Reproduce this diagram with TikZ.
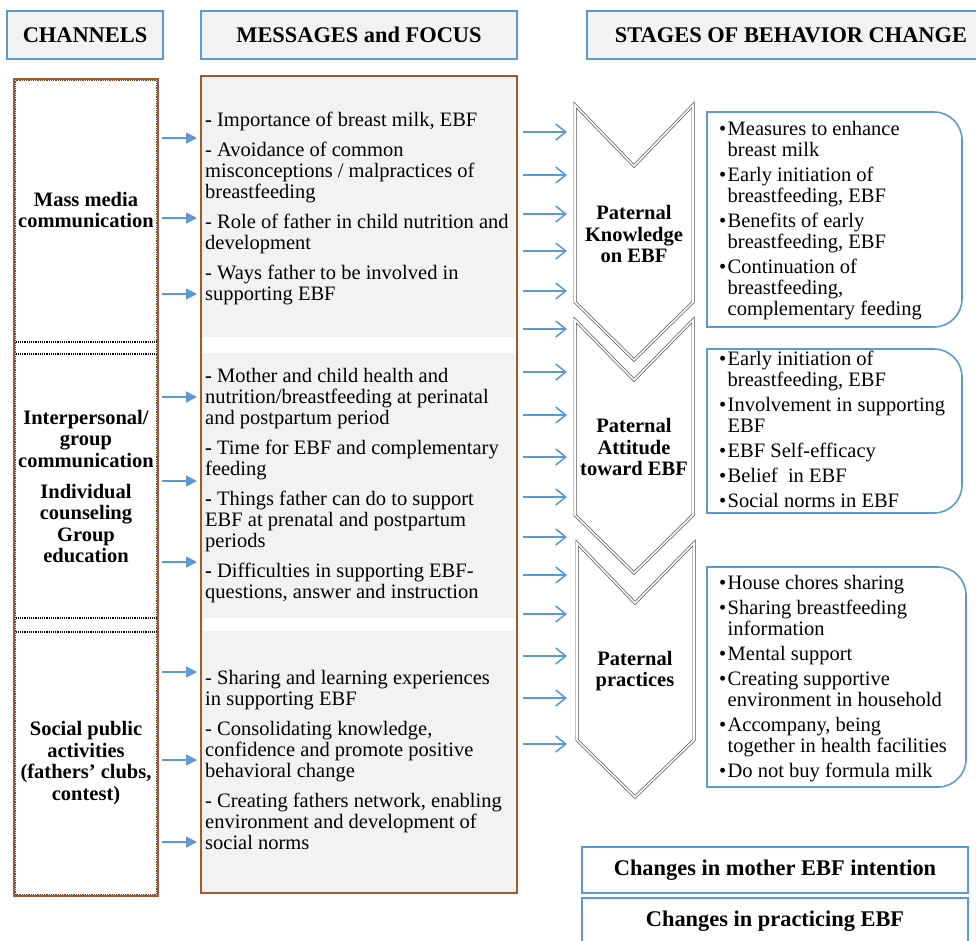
\documentclass[tikz,border=0pt]{standalone}
\usepackage{fontspec}
\setmainfont{Liberation Serif}
\usetikzlibrary{arrows.meta}
\definecolor{hblue}{HTML}{5B9BD5}
\definecolor{hgrey}{HTML}{F2F2F2}
\definecolor{brn}{HTML}{A0582E}
\definecolor{chev}{HTML}{505050}
\newcommand\bl{\makebox[8.5pt][l]{•}}
\newcommand\ind{\hspace*{8.5pt}}
\begin{document}
\begin{tikzpicture}[x=1pt,y=-1pt,
  hdr/.style={draw=hblue,line width=1.6pt,fill=hgrey,inner sep=0pt,font=\fontsize{22.4}{24}\selectfont\bfseries},
  bodytxt/.style={font=\fontsize{20.5}{21}\selectfont,align=left,inner sep=0pt,anchor=north west},
  chantxt/.style={font=\fontsize{20.5}{21.5}\selectfont\bfseries,align=center,inner sep=0pt},
  stagetxt/.style={font=\fontsize{20.5}{21.5}\selectfont\bfseries,align=center,inner sep=0pt},
  chevshape/.style={draw=chev,line width=0.7pt,double=white,double distance=1.6pt,fill=white,miter limit=3},
  infobox/.style={draw=hblue,line width=1.6pt,fill=white},
  resbox/.style={draw=hblue,line width=1.6pt,fill=white,inner sep=0pt,font=\fontsize{22.4}{24}\selectfont\bfseries},
  larrow/.style={draw=hblue,line width=1.8pt,-{Triangle[length=11pt,width=11pt]}},
  rarrow/.style={draw=hblue,line width=1.6pt,-{Straight Barb[length=10pt,width=16pt,line width=1.6pt]}}
]
\useasboundingbox (0,0) rectangle (976,940);

% headers
\node[hdr,minimum width=156pt,minimum height=48pt] (hch) at (85,35) {CHANNELS};
\node[hdr,minimum width=316pt,minimum height=48pt] (hmsg) at (359,35) {MESSAGES and FOCUS};
\node[hdr,minimum width=408pt,minimum height=48pt] (hstg) at (791,35) {STAGES OF BEHAVIOR CHANGE};

% channels column
\draw[brn,line width=1.2pt] (14,79) rectangle (158,896);
\draw[brn!70!black,line width=0.8pt,densely dotted] (15.5,80.5) rectangle (156.5,894.5);
\foreach \yy in {342,354,618,632}
  \draw[black,line width=1.2pt,densely dotted] (15.5,\yy) -- (156.5,\yy);

\node[chantxt] (c1) at (86,210) {Mass media\\communication};
\node[chantxt] (c2) at (86,486.5) {Interpersonal/\\group\\communication\\[9.5pt]Individual\\counseling\\Group\\education};
\node[chantxt] (c3) at (86,763) {Social public\\activities\\(fathers' clubs,\\contest)};

% messages column
\fill[white] (201,76) rectangle (517,893);
\fill[hgrey] (202,77) rectangle (516,337);
\fill[hgrey] (202,353) rectangle (516,618);
\fill[hgrey] (202,631) rectangle (516,892);
\draw[brn,line width=1.4pt] (201,76) rectangle (517,893);

\node[bodytxt] (m1) at (205,111.3) {\strut\textbf{-} Importance of breast milk, EBF\\[9pt]
- Avoidance of common\\misconceptions / malpractices of\\breastfeeding\\[9pt]
- Role of father in child nutrition and\\development\\[9pt]
- Ways father to be involved in\\supporting EBF};
\node[bodytxt] (m2) at (205,367.3) {\strut\textbf{-} Mother and child health and\\nutrition/breastfeeding at perinatal\\and postpartum period\\[9pt]
\textbf{-} Time for EBF and complementary\\feeding\\[9pt]
\textbf{-} Things father can do to support\\EBF at prenatal and postpartum\\periods\\[9pt]
\textbf{-} Difficulties in supporting EBF-\\questions, answer and instruction};
\node[bodytxt] (m3) at (205,669.3) {\strut- Sharing and learning experiences\\in supporting EBF\\[9pt]
- Consolidating knowledge,\\confidence and promote positive\\behavioral change\\[9pt]
- Creating fathers network, enabling\\environment and development of\\social norms};

% left arrows
\foreach \yy in {138,218,294,397,481,562,672,760,842}
  \draw[larrow] (162,\yy) -- (197,\yy);

% right arrows
\foreach \yy in {132,175,214,251,291,329,372,415,457,497,537,575,614,656,698,744}
  \draw[rarrow] (523,\yy) -- (567,\yy);

% chevrons
\draw[chevshape] (575,105) -- (634,166) -- (693,105) -- (693,302) -- (634,360) -- (575,302) -- cycle;
\draw[chevshape] (575,320) -- (634,380) -- (693,320) -- (693,515) -- (634,573) -- (575,515) -- cycle;
\draw[chevshape] (577,543) -- (635,603) -- (694,543) -- (694,740) -- (635,797) -- (577,740) -- cycle;
\node[stagetxt] (s1) at (634,234) {Paternal\\Knowledge\\on EBF};
\node[stagetxt] (s2) at (634,447) {Paternal\\Attitude\\toward EBF};
\node[stagetxt] (s3) at (635,671) {Paternal\\practices};

% info boxes
\draw[infobox] (707,112) -- (934,112) arc(-90:0:28) -- (962,299) arc(0:90:28) -- (707,327) -- cycle;
\draw[infobox] (707,349) -- (934,349) arc(-90:0:28) -- (962,485) arc(0:90:28) -- (707,513) -- cycle;
\draw[infobox] (707,567) -- (938,567) arc(-90:0:28) -- (966,759) arc(0:90:28) -- (707,787) -- cycle;

\node[bodytxt] (b1) at (719,120.3) {\strut\bl Measures to enhance\\\ind breast milk\\[4pt]
\bl Early initiation of\\\ind breastfeeding, EBF\\[4pt]
\bl Benefits of early\\\ind breastfeeding, EBF\\[4pt]
\bl Continuation of\\\ind breastfeeding,\\\ind complementary feeding};
\node[bodytxt] (b2) at (719,350.3) {\strut\bl Early initiation of\\\ind breastfeeding, EBF\\[4pt]
\bl Involvement in supporting\\\ind EBF\\[4pt]
\bl EBF Self-efficacy\\[4pt]
\bl Belief\ \ in EBF\\[4pt]
\bl Social norms in EBF};
\node[bodytxt] (b3) at (719,574.3) {\strut\bl House chores sharing\\[4pt]
\bl Sharing breastfeeding\\\ind information\\[4pt]
\bl Mental support\\[4pt]
\bl Creating supportive\\\ind environment in household\\[4pt]
\bl Accompany, being\\\ind together in health facilities\\[4pt]
\bl Do not buy formula milk};

% result boxes
\node[resbox,minimum width=386pt,minimum height=46pt] (r1) at (775,870) {Changes in mother EBF intention};
\node[resbox,minimum width=386pt,minimum height=47pt] (r2) at (775,921.5) {Changes in practicing EBF};
\end{tikzpicture}
\end{document}
